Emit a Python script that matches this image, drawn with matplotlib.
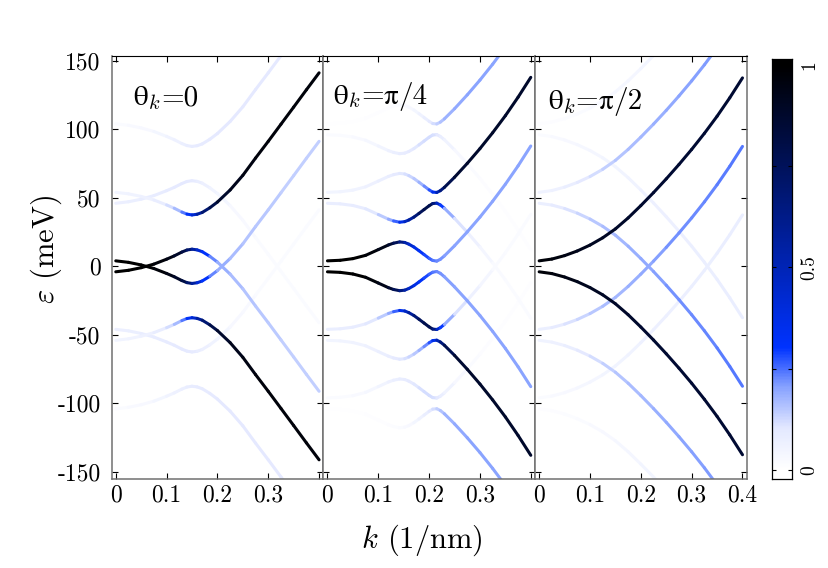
import numpy as np
import matplotlib
matplotlib.use('Agg')
import matplotlib.pyplot as plt
from matplotlib.collections import LineCollection
from matplotlib.colors import LinearSegmentedColormap, Normalize
from matplotlib.offsetbox import TextArea, HPacker, AnchoredOffsetbox

plt.rcParams['font.family'] = 'serif'
plt.rcParams['font.serif'] = ['cmr10']
plt.rcParams['mathtext.fontset'] = 'cm'
plt.rcParams['axes.unicode_minus'] = False

# k grids (1/nm)
K_P1 = [0, 0.025, 0.05, 0.075, 0.1, 0.115, 0.13, 0.14, 0.15, 0.16, 0.17, 0.185,
        0.2, 0.225, 0.25, 0.275, 0.3, 0.325, 0.35, 0.375, 0.4]
K_P2 = [0, 0.025, 0.05, 0.075, 0.1, 0.12, 0.13, 0.142, 0.152, 0.16, 0.17, 0.18,
        0.19, 0.2, 0.207, 0.215, 0.222, 0.23, 0.25, 0.275, 0.3, 0.325, 0.35, 0.375, 0.4]
K_P3 = [0, 0.025, 0.05, 0.075, 0.1, 0.125, 0.15, 0.175, 0.2, 0.225, 0.25,
        0.275, 0.3, 0.325, 0.35, 0.375, 0.4]

# ---- theta_k = 0 : energies (meV) and weights
P1_A = [54.0, 52.9, 51.0, 48.4, 44.8, 42.4, 39.6, 38.1, 37.5, 38.0, 39.3, 42.7, 46.9, 55.7, 66.4, 79.0, 91.2, 103.7, 116.2, 128.8, 141.2]
P1_A_W = [0.05, 0.055, 0.06, 0.07, 0.1, 0.14, 0.2, 0.28, 0.36, 0.5, 0.62, 0.76, 0.84, 0.91, 0.94, 0.96, 0.97, 0.97, 0.97, 0.97, 0.97]
P1_B = [-4.0, -2.9, -1.0, 1.6, 5.2, 7.6, 10.4, 11.9, 12.5, 12.0, 10.7, 7.3, 3.1, -5.7, -16.4, -29.0, -41.2, -53.7, -66.2, -78.8, -91.2]
P1_B_W = [1.0, 1.0, 1.0, 0.99, 0.96, 0.92, 0.85, 0.76, 0.64, 0.48, 0.36, 0.26, 0.2, 0.17, 0.16, 0.15, 0.15, 0.14, 0.14, 0.14, 0.14]
P1_C = [4.0, 2.9, 1.0, -1.6, -5.2, -7.6, -10.4, -11.9, -12.5, -12.0, -10.7, -7.3, -3.1, 5.7, 16.4, 29.0, 41.2, 53.7, 66.2, 78.8, 91.2]
P1_D = [-54.0, -52.9, -51.0, -48.4, -44.8, -42.4, -39.6, -38.1, -37.5, -38.0, -39.3, -42.7, -46.9, -55.7, -66.4, -79.0, -91.2, -103.7, -116.2, -128.8, -141.2]
P1_E = [46.0, 47.1, 49.0, 51.6, 55.2, 57.6, 60.4, 61.9, 62.5, 62.0, 60.7, 57.3, 53.1, 44.3, 33.6, 21.0, 8.8, -3.7, -16.2, -28.8, -41.2]
P1_E_W = [0.07, 0.075, 0.08, 0.085, 0.09, 0.095, 0.1, 0.1, 0.095, 0.085, 0.075, 0.06, 0.05, 0.04, 0.03, 0.025, 0.02, 0.02, 0.02, 0.02, 0.02]
P1_F = [104.0, 102.9, 101.0, 98.4, 94.8, 92.4, 89.6, 88.1, 87.5, 88.0, 89.3, 92.7, 96.9, 105.7, 116.4, 129.0, 141.2, 153.7, 166.2, 178.8, 191.2]
P1_F_W = [0.02, 0.025, 0.03, 0.04, 0.05, 0.06, 0.07, 0.08, 0.085, 0.09, 0.09, 0.095, 0.1, 0.1, 0.1, 0.1, 0.1, 0.1, 0.1, 0.1, 0.1]
P1_G = [-46.0, -47.1, -49.0, -51.6, -55.2, -57.6, -60.4, -61.9, -62.5, -62.0, -60.7, -57.3, -53.1, -44.3, -33.6, -21.0, -8.8, 3.7, 16.2, 28.8, 41.2]
P1_H = [-104.0, -102.9, -101.0, -98.4, -94.8, -92.4, -89.6, -88.1, -87.5, -88.0, -89.3, -92.7, -96.9, -105.7, -116.4, -129.0, -141.2, -153.7, -166.2, -178.8, -191.2]

# ---- theta_k = pi/4
P2_1 = [4.0, 4.4, 5.6, 8.0, 12.2, 15.6, 16.9, 17.8, 17.4, 16.2, 14.1, 11.4, 8.6, 5.8, 4.3, 3.8, 5.1, 7.6, 15.0, 25.1, 35.9, 47.5, 59.9, 73.3, 87.8]
P2_1_W = [1.0, 1.0, 1.0, 0.99, 0.96, 0.9, 0.82, 0.7, 0.58, 0.48, 0.4, 0.34, 0.3, 0.27, 0.25, 0.23, 0.22, 0.21, 0.2, 0.2, 0.2, 0.2, 0.2, 0.2, 0.2]
P2_2 = [46.0, 45.6, 44.4, 42.0, 37.8, 34.4, 33.1, 32.2, 32.6, 33.8, 35.9, 38.6, 41.4, 44.2, 45.8, 46.1, 44.8, 42.4, 35.0, 24.9, 14.1, 2.5, -9.9, -23.4, -37.9]
P2_2_W = [0.08, 0.08, 0.085, 0.09, 0.12, 0.17, 0.22, 0.3, 0.42, 0.52, 0.62, 0.72, 0.78, 0.8, 0.75, 0.55, 0.35, 0.24, 0.14, 0.08, 0.05, 0.03, 0.02, 0.02, 0.02]
P2_3 = [54.0, 54.4, 55.6, 58.0, 62.2, 65.6, 66.9, 67.8, 67.4, 66.2, 64.1, 61.4, 58.6, 55.8, 54.2, 53.9, 55.2, 57.6, 65.0, 75.1, 85.9, 97.5, 109.9, 123.4, 137.9]
P2_3_W = [0.05, 0.05, 0.055, 0.06, 0.07, 0.08, 0.09, 0.1, 0.11, 0.12, 0.14, 0.16, 0.2, 0.25, 0.3, 0.42, 0.6, 0.72, 0.85, 0.87, 0.88, 0.88, 0.88, 0.88, 0.88]
P2_4 = [96.0, 95.6, 94.4, 92.0, 87.8, 84.4, 83.1, 82.2, 82.6, 83.8, 85.9, 88.6, 91.4, 94.2, 95.8, 96.1, 94.8, 92.4, 85.0, 74.9, 64.1, 52.5, 40.1, 26.6, 12.1]
P2_4_W = [0.02, 0.02, 0.025, 0.03, 0.045, 0.06, 0.07, 0.08, 0.085, 0.09, 0.1, 0.11, 0.12, 0.12, 0.12, 0.11, 0.09, 0.07, 0.04, 0.025, 0.015, 0.01, 0.01, 0.01, 0.01]
P2_5 = [104.0, 104.4, 105.6, 108.0, 112.2, 115.6, 116.9, 117.8, 117.4, 116.2, 114.1, 111.4, 108.6, 105.8, 104.2, 103.9, 105.2, 107.6, 115.0, 125.1, 135.9, 147.5, 159.9, 173.4, 187.9]
P2_5_W = [0.005, 0.005, 0.006, 0.008, 0.01, 0.012, 0.015, 0.02, 0.025, 0.03, 0.04, 0.05, 0.07, 0.09, 0.11, 0.13, 0.15, 0.17, 0.19, 0.2, 0.2, 0.2, 0.2, 0.2, 0.2]
P2_1M = [-4.0, -4.4, -5.6, -8.0, -12.2, -15.6, -16.9, -17.8, -17.4, -16.2, -14.1, -11.4, -8.6, -5.8, -4.3, -3.8, -5.1, -7.6, -15.0, -25.1, -35.9, -47.5, -59.9, -73.3, -87.8]
P2_2M = [-46.0, -45.6, -44.4, -42.0, -37.8, -34.4, -33.1, -32.2, -32.6, -33.8, -35.9, -38.6, -41.4, -44.2, -45.8, -46.1, -44.8, -42.4, -35.0, -24.9, -14.1, -2.5, 9.9, 23.4, 37.9]
P2_3M = [-54.0, -54.4, -55.6, -58.0, -62.2, -65.6, -66.9, -67.8, -67.4, -66.2, -64.1, -61.4, -58.6, -55.8, -54.2, -53.9, -55.2, -57.6, -65.0, -75.1, -85.9, -97.5, -109.9, -123.4, -137.9]
P2_4M = [-96.0, -95.6, -94.4, -92.0, -87.8, -84.4, -83.1, -82.2, -82.6, -83.8, -85.9, -88.6, -91.4, -94.2, -95.8, -96.1, -94.8, -92.4, -85.0, -74.9, -64.1, -52.5, -40.1, -26.6, -12.1]
P2_5M = [-104.0, -104.4, -105.6, -108.0, -112.2, -115.6, -116.9, -117.8, -117.4, -116.2, -114.1, -111.4, -108.6, -105.8, -104.2, -103.9, -105.2, -107.6, -115.0, -125.1, -135.9, -147.5, -159.9, -173.4, -187.9]

# ---- theta_k = pi/2
P3_U = [4.0, 5.3, 7.8, 11.2, 15.5, 20.8, 27.3, 35.3, 44.3, 53.8, 63.8, 74.3, 85.3, 97.0, 109.5, 123.0, 137.5]
P3_U_W = [0.98, 0.97, 0.95, 0.93, 0.91, 0.90, 0.89, 0.88, 0.87, 0.87, 0.86, 0.86, 0.86, 0.86, 0.86, 0.86, 0.86]
P3_D = [-4.0, -5.3, -7.8, -11.2, -15.5, -20.8, -27.3, -35.3, -44.3, -53.8, -63.8, -74.3, -85.3, -97.0, -109.5, -123.0, -137.5]
P3_UP50 = [54.0, 55.3, 57.8, 61.2, 65.5, 70.8, 77.3, 85.3, 94.3, 103.8, 113.8, 124.3, 135.3, 147.0, 159.5, 173.0, 187.5]
P3_UP50_W = [0.05, 0.06, 0.07, 0.09, 0.11, 0.13, 0.15, 0.16, 0.17, 0.18, 0.19, 0.2, 0.2, 0.21, 0.21, 0.21, 0.21]
P3_DM50 = [-54.0, -55.3, -57.8, -61.2, -65.5, -70.8, -77.3, -85.3, -94.3, -103.8, -113.8, -124.3, -135.3, -147.0, -159.5, -173.0, -187.5]
P3_DP50 = [46.0, 44.7, 42.2, 38.8, 34.5, 29.2, 22.7, 14.7, 5.7, -3.8, -13.8, -24.3, -35.3, -47.0, -59.5, -73.0, -87.5]
P3_DP50_W = [0.07, 0.08, 0.1, 0.12, 0.14, 0.16, 0.17, 0.18, 0.19, 0.2, 0.21, 0.22, 0.22, 0.23, 0.23, 0.24, 0.24]
P3_UM50 = [-46.0, -44.7, -42.2, -38.8, -34.5, -29.2, -22.7, -14.7, -5.7, 3.8, 13.8, 24.3, 35.3, 47.0, 59.5, 73.0, 87.5]
P3_DP100 = [96.0, 94.7, 92.2, 88.8, 84.5, 79.2, 72.7, 64.7, 55.7, 46.2, 36.2, 25.7, 14.7, 3.0, -9.5, -23.0, -37.5]
P3_DP100_W = [0.02, 0.025, 0.03, 0.035, 0.04, 0.045, 0.05, 0.055, 0.06, 0.065, 0.07, 0.07, 0.075, 0.075, 0.08, 0.08, 0.08]
P3_UM100 = [-96.0, -94.7, -92.2, -88.8, -84.5, -79.2, -72.7, -64.7, -55.7, -46.2, -36.2, -25.7, -14.7, -3.0, 9.5, 23.0, 37.5]
P3_UP100 = [104.0, 105.3, 107.8, 111.2, 115.5, 120.8, 127.3, 135.3, 144.3, 153.8, 163.8, 174.3, 185.3, 197.0, 209.5, 223.0, 237.5]
P3_UP100_W = [0.01, 0.012, 0.015, 0.02, 0.025, 0.03, 0.035, 0.04, 0.045, 0.05, 0.05, 0.05, 0.05, 0.05, 0.05, 0.05, 0.05]
P3_DM100 = [-104.0, -105.3, -107.8, -111.2, -115.5, -120.8, -127.3, -135.3, -144.3, -153.8, -163.8, -174.3, -185.3, -197.0, -209.5, -223.0, -237.5]

COLORBAR_TICKS = [0, 0.25, 0.5, 0.75, 1]
COLORBAR_LABELS = ['0', '', '0.5', '', '1']
Y_TICKS = [-150, -100, -50, 0, 50, 100, 150]
X_TICKS = [0, 0.1, 0.2, 0.3, 0.4]

CMAP = LinearSegmentedColormap.from_list(
    'weight', [(0.0, '#ffffff'), (0.1, '#e4e9ff'), (0.2, '#8aa4ff'),
               (0.3, '#0033ff'), (1.0, '#000000')])
NORM = Normalize(0, 1)

panels = [
    (K_P1, [(P1_A, P1_A_W), (P1_B, P1_B_W), (P1_C, P1_B_W), (P1_D, P1_A_W),
            (P1_E, P1_E_W), (P1_F, P1_F_W), (P1_G, P1_E_W), (P1_H, P1_F_W)],
     [('θ', 'STIXGeneral'), ('$_k$', 'cmr10'), ('=0', 'cmr10')], 0.100, 0.931),
    (K_P2, [(P2_1, P2_1_W), (P2_2, P2_2_W), (P2_3, P2_3_W), (P2_4, P2_4_W), (P2_5, P2_5_W),
            (P2_1M, P2_1_W), (P2_2M, P2_2_W), (P2_3M, P2_3_W), (P2_4M, P2_4_W), (P2_5M, P2_5_W)],
     [('θ', 'STIXGeneral'), ('$_k$', 'cmr10'), ('=', 'cmr10'), ('π', 'STIXGeneral'),
      ('/4', 'cmr10')], 0.045, 0.939),
    (K_P3, [(P3_U, P3_U_W), (P3_D, P3_U_W), (P3_UP50, P3_UP50_W), (P3_DM50, P3_UP50_W),
            (P3_DP50, P3_DP50_W), (P3_UM50, P3_DP50_W), (P3_DP100, P3_DP100_W),
            (P3_UM100, P3_DP100_W), (P3_UP100, P3_UP100_W), (P3_DM100, P3_UP100_W)],
     [('θ', 'STIXGeneral'), ('$_k$', 'cmr10'), ('=', 'cmr10'), ('π', 'STIXGeneral'),
      ('/2', 'cmr10')], 0.060, 0.927),
]


def draw_band(ax, k, e, w):
    pts = np.column_stack([k, e])
    segs = np.stack([pts[:-1], pts[1:]], axis=1)
    w = np.asarray(w)
    wm = 0.5 * (w[:-1] + w[1:])
    lc = LineCollection(segs, colors=CMAP(NORM(wm)), linewidths=2.2,
                        capstyle='round', joinstyle='round', zorder=2 + w.max())
    ax.add_collection(lc)


def add_title(ax, parts, x, y):
    boxes = [TextArea(s, textprops=dict(family=fam, fontsize=21, color='black'))
             for s, fam in parts]
    pack = HPacker(children=boxes, align='baseline', pad=0, sep=0)
    box = AnchoredOffsetbox(loc='upper left', child=pack, pad=0, borderpad=0,
                            frameon=False, bbox_to_anchor=(x, y),
                            bbox_transform=ax.transAxes)
    box.set_zorder(10)
    ax.add_artist(box)


W, H = 829, 568
fig = plt.figure(figsize=(W / 100, H / 100), dpi=100, facecolor='white')
lefts = [111.7, 323.4, 535.1]
ax_w = 211.7
ax_bottom = (H - 479.0) / H
ax_h = (479.0 - 55.7) / H

for i, (kgrid, bands, title, tx, ty) in enumerate(panels):
    ax = fig.add_axes([lefts[i] / W, ax_bottom, ax_w / W, ax_h])
    for e, w in sorted(bands, key=lambda b: max(b[1])):
        draw_band(ax, kgrid, e, w)
    ax.set_xlim(-0.008, 0.4085)
    ax.set_ylim(-155.2, 153.7)
    ax.set_xticks(X_TICKS)
    if i < 2:
        ax.set_xticklabels(['0', '0.1', '0.2', '0.3', ''])
    else:
        ax.set_xticklabels(['0', '0.1', '0.2', '0.3', '0.4'])
    ax.set_yticks(Y_TICKS)
    if i == 0:
        ax.set_yticklabels([str(v) for v in Y_TICKS])
    else:
        ax.set_yticklabels([])
    ax.tick_params(direction='in', length=4, width=0.8, top=True, right=True,
                   labelsize=17, colors='black')
    ax.tick_params(axis='y', pad=8)
    ax.tick_params(axis='x', pad=4)
    for side in ['left', 'right', 'bottom']:
        ax.spines[side].set_color('#707070')
        ax.spines[side].set_linewidth(1.1)
    ax.spines['top'].set_color('black')
    ax.spines['top'].set_linewidth(0.8)
    add_title(ax, title, tx, ty)

# colour bar
cax = fig.add_axes([771.7 / W, (H - 479.3) / H, 20.6 / W, (479.3 - 59.3) / H])
grad = np.linspace(-0.023, 1.014, 400)
cax.imshow(grad[:, None], aspect='auto', cmap=CMAP, norm=NORM, origin='lower',
           extent=[0, 1, -0.023, 1.014])
cax.set_xlim(0, 1)
cax.set_ylim(-0.023, 1.014)
cax.set_xticks([])
cax.yaxis.tick_right()
cax.set_yticks(COLORBAR_TICKS)
cax.set_yticklabels(COLORBAR_LABELS)
cax.tick_params(axis='y', direction='in', length=3, width=0.8, left=True, right=True,
                labelsize=14, labelrotation=90, pad=6)
for lab in cax.get_yticklabels():
    lab.set_va('center')
for s in cax.spines.values():
    s.set_linewidth(0.9)

fig.text(421.7 / W, 1 - 540 / H, r'$k$ (1/nm)', fontsize=22, ha='center', va='center')
fig.text(46.5 / W, 1 - 249 / H, r'$\varepsilon$ (meV)', fontsize=22, ha='center',
         va='center', rotation=90)

fig.savefig('out.png', dpi=100, facecolor='white')
